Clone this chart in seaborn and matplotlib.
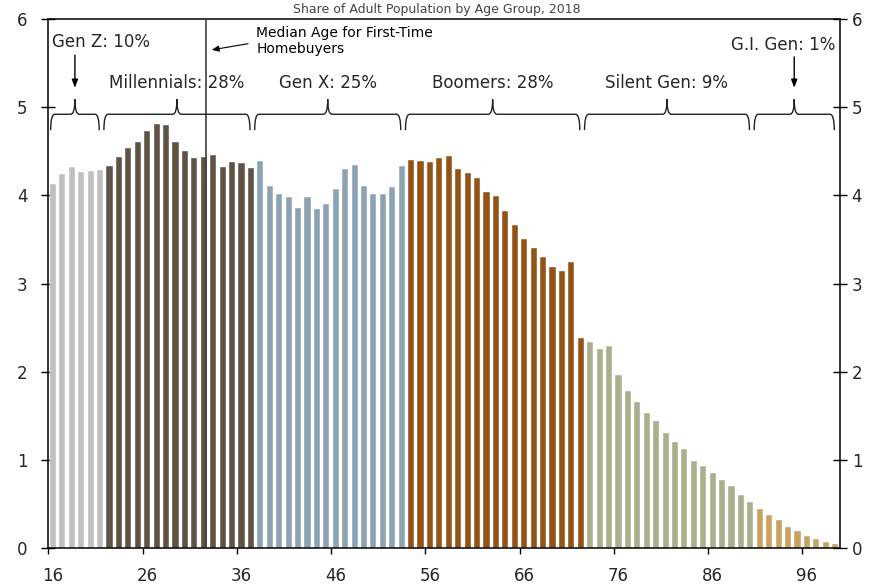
import numpy as np
import pandas as pd
import matplotlib
matplotlib.use("Agg")
import matplotlib.pyplot as plt
from matplotlib.path import Path
from matplotlib.patches import PathPatch
from matplotlib.ticker import FixedLocator
import seaborn as sns

# Share of adult population by single year of age (ages 16-99)
gen_names = ["Gen Z", "Millennials", "Gen X", "Boomers", "Silent Gen", "G.I. Gen"]
gen_labels = ["Gen Z: 10%", "Millennials: 28%", "Gen X: 25%", "Boomers: 28%",
              "Silent Gen: 9%", "G.I. Gen: 1%"]
gen_first_age = [16, 22, 38, 54, 73, 91]
gen_last_age = [21, 37, 53, 72, 90, 99]
gen_colors = ["#c0c0c0", "#5f5346", "#8ca3b4", "#945316", "#abb08c", "#c9a25e"]

gen_z = [4.13, 4.24, 4.32, 4.27, 4.28, 4.29]
millennials = [4.33, 4.44, 4.54, 4.61, 4.73, 4.81, 4.80, 4.61, 4.50, 4.42,
               4.43, 4.46, 4.32, 4.38, 4.37, 4.31]
gen_x = [4.39, 4.11, 4.02, 3.98, 3.86, 3.98, 3.85, 3.90, 4.07, 4.30,
         4.35, 4.11, 4.02, 4.02, 4.09, 4.33]
boomers = [4.40, 4.39, 4.38, 4.42, 4.45, 4.30, 4.25, 4.20, 4.04, 3.99,
           3.82, 3.66, 3.51, 3.40, 3.30, 3.19, 3.14, 3.25, 2.38]
silent_gen = [2.34, 2.26, 2.29, 1.97, 1.78, 1.66, 1.53, 1.44, 1.31, 1.21,
              1.13, 0.99, 0.93, 0.85, 0.77, 0.71, 0.60, 0.53]
gi_gen = [0.45, 0.38, 0.32, 0.24, 0.20, 0.14, 0.10, 0.07, 0.05]

median_first_time_age = 32.2
x_tick_labels = [16, 26, 36, 46, 56, 66, 76, 86, 96]
y_ticks = [0, 1, 2, 3, 4, 5, 6]
title = "Share of Adult Population by Age Group, 2018"

series = [gen_z, millennials, gen_x, boomers, silent_gen, gi_gen]
rows = []
for name, first, vals in zip(gen_names, gen_first_age, series):
    for i, v in enumerate(vals):
        rows.append({"age": first + i, "share": v, "generation": name})
df = pd.DataFrame(rows)

sns.set_theme(style="white")
plt.rcParams["font.family"] = ["DejaVu Sans"]

fig = plt.figure(figsize=(8.86, 5.86), dpi=100)
ax = fig.add_axes([0.0545, 0.0643, 0.8935, 0.9033])

sns.barplot(data=df, x="age", y="share", hue="generation",
            palette=dict(zip(gen_names, gen_colors)), hue_order=gen_names,
            native_scale=True, dodge=False, width=0.65, saturation=1,
            legend=False, ax=ax, edgecolor="white", linewidth=0.3)

ax.set_xlim(15.5, 99.5)
ax.set_ylim(0, 6)
ax.set_xlabel("")
ax.set_ylabel("")

# left y axis, ticks crossing the spine
ax.set_yticks(y_ticks)
ax.tick_params(axis="y", which="major", left=True, direction="inout",
               length=10, width=1, color="black", labelsize=12, pad=10)

# mirrored right y axis
ax2 = ax.twinx()
ax2.set_ylim(0, 6)
ax2.set_yticks(y_ticks)
ax2.tick_params(axis="y", which="major", right=True, direction="inout",
                length=10, width=1, color="black", labelsize=12, pad=3.5)
ax2.grid(False)
for s in ax2.spines.values():
    s.set_visible(False)

# x labels centred on categories, tick marks on category boundaries
ax.set_xticks(x_tick_labels)
ax.set_xticklabels([str(a) for a in x_tick_labels])
ax.tick_params(axis="x", which="major", length=0, labelsize=12, pad=13.5)
ax.xaxis.set_minor_locator(FixedLocator([a - 0.5 for a in x_tick_labels]))
ax.tick_params(axis="x", which="minor", bottom=True, direction="out",
               length=4.5, width=1, color="black")

for s in ax.spines.values():
    s.set_color("black")
    s.set_linewidth(1.1)

# median age line
ax.axvline(median_first_time_age, color="#404040", lw=1.2, zorder=3)
ax.annotate("", xy=(median_first_time_age + 0.65, 5.65), xytext=(36.7, 5.72),
            arrowprops=dict(arrowstyle="-|>,head_length=0.35,head_width=0.15",
                            color="black", lw=0.8, shrinkA=0, shrinkB=0))
ax.text(37.56, 5.75, "Median Age for First-Time\nHomebuyers", ha="left",
        va="center", fontsize=10, color="black")


def draw_brace(ax, x0, x1, y_end=4.74, y_mid=4.92, y_tip=5.09, r=0.45):
    xm = (x0 + x1) / 2
    verts = [(x0, y_end), (x0, y_mid), (x0 + r, y_mid),
             (xm - r, y_mid), (xm, y_mid), (xm, y_tip),
             (xm, y_mid), (xm + r, y_mid),
             (x1 - r, y_mid), (x1, y_mid), (x1, y_end)]
    codes = [Path.MOVETO, Path.CURVE3, Path.CURVE3,
             Path.LINETO, Path.CURVE3, Path.CURVE3,
             Path.CURVE3, Path.CURVE3,
             Path.LINETO, Path.CURVE3, Path.CURVE3]
    ax.add_patch(PathPatch(Path(verts, codes), fill=False, lw=1.0,
                           edgecolor="#222222", zorder=4))
    return xm


arrow_kw = dict(arrowstyle="-|>,head_length=0.4,head_width=0.15",
                color="black", lw=1.0, shrinkA=0, shrinkB=0)
for name, label, first, last in zip(gen_names, gen_labels,
                                    gen_first_age, gen_last_age):
    x0 = max(first - 0.6, 15.75)
    x1 = last - 0.1
    xm = draw_brace(ax, x0, x1)
    if name == "Gen Z":
        ax.text(15.9, 5.74, label, ha="left", va="center", fontsize=12)
        ax.annotate("", xy=(xm, 5.22), xytext=(xm, 5.59), arrowprops=arrow_kw)
    elif name == "G.I. Gen":
        ax.text(99.06, 5.71, label, ha="right", va="center", fontsize=12)
        ax.annotate("", xy=(xm, 5.22), xytext=(xm, 5.57), arrowprops=arrow_kw)
    else:
        ax.text(xm, 5.28, label, ha="center", va="center", fontsize=12)

# title squeezed into the thin top margin
fig.text(0.493, 1 - 9 / 586, title, ha="center", va="center", fontsize=9,
         color="#444444")

fig.savefig("out.png", dpi=100)
